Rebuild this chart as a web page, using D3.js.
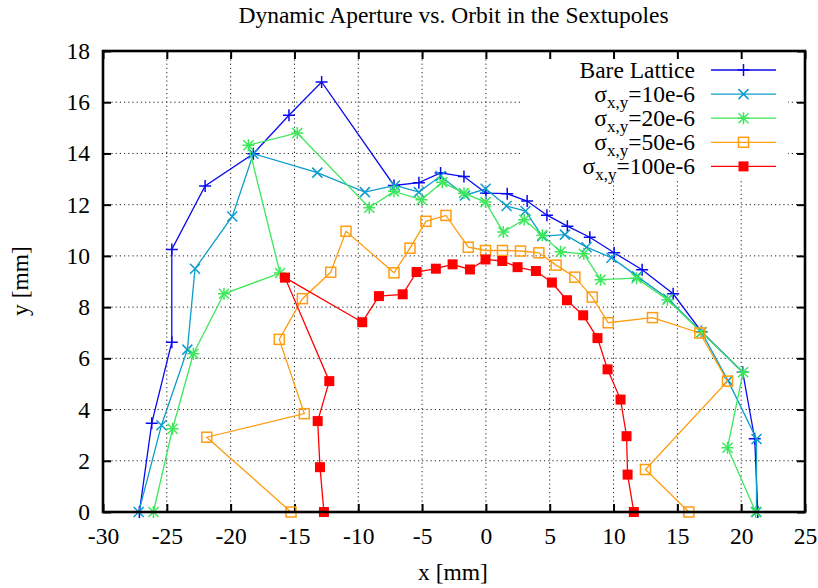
<!DOCTYPE html>
<html>
<head>
<meta charset="utf-8">
<script src="https://cdn.jsdelivr.net/npm/d3@7"></script>
<style>
  body { margin: 0; background: #fff; }
  svg { font-family: "Liberation Serif", "Times New Roman", serif; }
</style>
</head>
<body>
<div id="chart"></div>
<script>
// data, x / y in mm
const bareX = [-27.15, -26.18, -24.61, -24.61, -22.0, -18.22, -15.43, -12.87, -7.2, -5.25, -3.55, -1.72, 0.0, 1.67, 3.23, 4.78, 6.38, 8.14, 10.05, 12.24, 14.67, 16.89, 20.12, 21.06, 21.3];
const bareY = [0, 3.47, 6.63, 10.25, 12.73, 13.99, 15.49, 16.79, 12.75, 12.86, 13.24, 13.1, 12.45, 12.43, 12.14, 11.59, 11.16, 10.73, 10.12, 9.46, 8.52, 7.04, 5.46, 2.86, 0];

const s10X = [-27.2, -25.42, -23.39, -22.79, -19.87, -18.22, -13.21, -9.48, -7.13, -5.25, -3.55, -1.64, -0.02, 1.62, 3.1, 4.41, 6.19, 7.88, 9.84, 11.85, 14.28, 16.89, 18.97, 21.2, 21.2];
const s10Y = [0, 3.39, 6.34, 9.5, 11.54, 13.99, 13.25, 12.49, 12.75, 12.49, 13.12, 12.36, 12.62, 11.95, 11.75, 10.77, 10.83, 10.34, 9.93, 9.2, 8.33, 7.02, 5.13, 2.85, 0];

const s20X = [-26.05, -24.55, -22.92, -20.52, -16.13, -18.61, -14.78, -9.14, -7.2, -5.04, -3.42, -1.72, -0.03, 1.36, 3.0, 4.42, 5.85, 7.67, 8.98, 11.8, 14.22, 16.89, 20.15, 18.93, 21.14];
const s20Y = [0, 3.25, 6.18, 8.52, 9.33, 14.32, 14.8, 11.88, 12.52, 12.19, 12.88, 12.45, 12.1, 10.93, 11.41, 10.81, 10.16, 10.08, 9.07, 9.13, 8.29, 7.02, 5.46, 2.51, 0];

const s50X = [-15.27, -21.87, -14.23, -16.19, -14.38, -12.16, -10.96, -7.2, -5.95, -4.7, -3.13, -1.38, -0.03, 1.3, 2.71, 4.15, 5.5, 6.97, 8.33, 9.58, 13.05, 16.76, 18.93, 12.5, 15.9];
const s50Y = [0, 2.92, 3.84, 6.74, 8.33, 9.36, 10.96, 9.34, 10.3, 11.35, 11.58, 10.34, 10.21, 10.21, 10.19, 10.12, 9.64, 9.17, 8.39, 7.39, 7.59, 6.99, 5.11, 1.66, 0];

const s100X = [-12.69, -13.0, -13.18, -12.27, -15.74, -9.69, -8.38, -6.52, -5.43, -3.92, -2.61, -1.25, -0.03, 1.28, 2.48, 3.92, 5.17, 6.35, 7.62, 8.74, 9.53, 10.55, 11.02, 11.1, 11.59];
const s100Y = [0, 1.75, 3.55, 5.11, 9.15, 7.41, 8.43, 8.5, 9.37, 9.5, 9.67, 9.47, 9.86, 9.8, 9.56, 9.41, 8.96, 8.27, 7.68, 6.79, 5.57, 4.39, 2.96, 1.46, 0];

const xTicks = [-30, -25, -20, -15, -10, -5, 0, 5, 10, 15, 20, 25];
const yTicks = [0, 2, 4, 6, 8, 10, 12, 14, 16, 18];

const seriesNames = ["Bare Lattice", "10e-6", "20e-6", "50e-6", "100e-6"];
const seriesColors = ["#0a0af0", "#0d9ccc", "#3ce85a", "#ff9c10", "#ff0000"];
const seriesMarkers = ["plus", "cross", "star", "square", "filled"];
const seriesXs = [bareX, s10X, s20X, s50X, s100X];
const seriesYs = [bareY, s10Y, s20Y, s50Y, s100Y];

function drawMarker(sel, type, color) {
  const r = 5;
  if (type === "plus" || type === "star") {
    sel.append("path").attr("d", `M${-r - 1},0H${r + 1}M0,${-r - 1}V${r + 1}`)
      .attr("stroke", color).attr("stroke-width", 1.5);
  }
  if (type === "cross" || type === "star") {
    sel.append("path").attr("d", `M${-r},${-r}L${r},${r}M${-r},${r}L${r},${-r}`)
      .attr("stroke", color).attr("stroke-width", 1.5);
  }
  if (type === "square") {
    sel.append("rect").attr("x", -r).attr("y", -r).attr("width", 2 * r).attr("height", 2 * r)
      .attr("fill", "none").attr("stroke", color).attr("stroke-width", 1.5);
  }
  if (type === "filled") {
    sel.append("rect").attr("x", -r).attr("y", -r).attr("width", 2 * r).attr("height", 2 * r)
      .attr("fill", color);
  }
}

function createApertureChart(containerId, options = {}) {
  const defaults = {
    width: 818,
    height: 588,
    margin: { top: 51, right: 13, bottom: 76, left: 103 },
    fontSize: 23.5,
  };
  const config = { ...defaults, ...options };

  const svg = d3.select(containerId).append("svg")
    .attr("width", config.width)
    .attr("height", config.height);

  const width = config.width - config.margin.left - config.margin.right;
  const height = config.height - config.margin.top - config.margin.bottom;

  const g = svg.append("g")
    .attr("transform", `translate(${config.margin.left},${config.margin.top})`);

  // Scales
  const x = d3.scaleLinear().domain([-30, 25]).range([0, width]);
  const y = d3.scaleLinear().domain([0, 18]).range([height, 0]);

  // Grid (dotted)
  const grid = g.append("g").attr("class", "grid")
    .attr("stroke", "#222").attr("stroke-width", 1).attr("stroke-dasharray", "1.2,3");
  grid.selectAll(".gx").data(xTicks.slice(1, -1)).enter().append("line")
    .attr("x1", (d) => x(d)).attr("x2", (d) => x(d))
    .attr("y1", 0).attr("y2", height);
  grid.selectAll(".gy").data(yTicks.slice(1, -1)).enter().append("line")
    .attr("x1", 0).attr("x2", width)
    .attr("y1", (d) => y(d)).attr("y2", (d) => y(d));

  // key box blanks the grid behind it
  g.append("rect")
    .attr("x", 420).attr("y", 0).attr("width", 265).attr("height", 127)
    .attr("fill", "#fff");

  // Axes, ticks pointing inwards
  const plain = (d) => String(d); // hyphen minus, like the reference
  const styleAxis = (a) => {
    a.select(".domain").remove();
    a.selectAll(".tick line").attr("stroke", "#000").attr("stroke-width", 2);
    a.selectAll("text").attr("fill", "#000")
      .style("font-size", config.fontSize + "px")
      .style("font-family", "'Liberation Serif', 'Times New Roman', serif");
  };

  g.append("g").attr("transform", `translate(0,${height})`)
    .call(d3.axisBottom(x).tickValues(xTicks).tickSize(-8).tickPadding(15).tickFormat(plain))
    .call(styleAxis);
  g.append("g")
    .call(d3.axisTop(x).tickValues(xTicks).tickSize(-8).tickFormat(""))
    .call(styleAxis);
  g.append("g")
    .call(d3.axisLeft(y).tickValues(yTicks).tickSize(-8).tickPadding(13).tickFormat(plain))
    .call(styleAxis);
  g.append("g").attr("transform", `translate(${width},0)`)
    .call(d3.axisRight(y).tickValues(yTicks).tickSize(-8).tickFormat(""))
    .call(styleAxis);

  // Series
  const line = d3.line().x((d) => x(d[0])).y((d) => y(d[1]));
  seriesXs.forEach((xs, i) => {
    const pts = xs.map((v, j) => [v, seriesYs[i][j]]);
    g.append("path").datum(pts)
      .attr("d", line)
      .attr("fill", "none")
      .attr("stroke", seriesColors[i])
      .attr("stroke-width", 1.3);
    g.selectAll(`.m${i}`).data(pts).enter().append("g")
      .attr("class", `m${i}`)
      .attr("transform", (d) => `translate(${x(d[0])},${y(d[1])})`)
      .each(function () { drawMarker(d3.select(this), seriesMarkers[i], seriesColors[i]); });
  });

  // Frame
  g.append("rect")
    .attr("width", width).attr("height", height)
    .attr("fill", "none").attr("stroke", "#000").attr("stroke-width", 2.6);

  // Legend
  const legend = g.append("g").style("font-size", config.fontSize + "px");
  seriesNames.forEach((name, i) => {
    const cy = 19 + i * 24.1;
    const t = legend.append("text")
      .attr("x", 592).attr("y", cy + 7.8)
      .attr("text-anchor", "end");
    if (i === 0) {
      t.text(name);
    } else {
      t.append("tspan").text("σ");
      t.append("tspan").attr("dy", 6).style("font-size", "17px").text("x,y");
      t.append("tspan").attr("dy", -6).text("=" + name);
    }
    legend.append("line")
      .attr("x1", 608).attr("x2", 673).attr("y1", cy).attr("y2", cy)
      .attr("stroke", seriesColors[i]).attr("stroke-width", 1.3);
    drawMarker(legend.append("g").attr("transform", `translate(640.5,${cy})`), seriesMarkers[i], seriesColors[i]);
  });

  // Labels
  svg.append("text")
    .attr("x", 453.5).attr("y", 23)
    .attr("text-anchor", "middle")
    .style("font-size", config.fontSize + "px")
    .text("Dynamic Aperture vs. Orbit in the Sextupoles");

  svg.append("text")
    .attr("x", 453).attr("y", 580)
    .attr("text-anchor", "middle")
    .style("font-size", config.fontSize + "px")
    .text("x [mm]");

  svg.append("text")
    .attr("transform", "rotate(-90)")
    .attr("x", -281).attr("y", 28)
    .attr("text-anchor", "middle")
    .style("font-size", config.fontSize + "px")
    .text("y [mm]");

  return { svg, g, x, y };
}

createApertureChart("#chart");
</script>
</body>
</html>
